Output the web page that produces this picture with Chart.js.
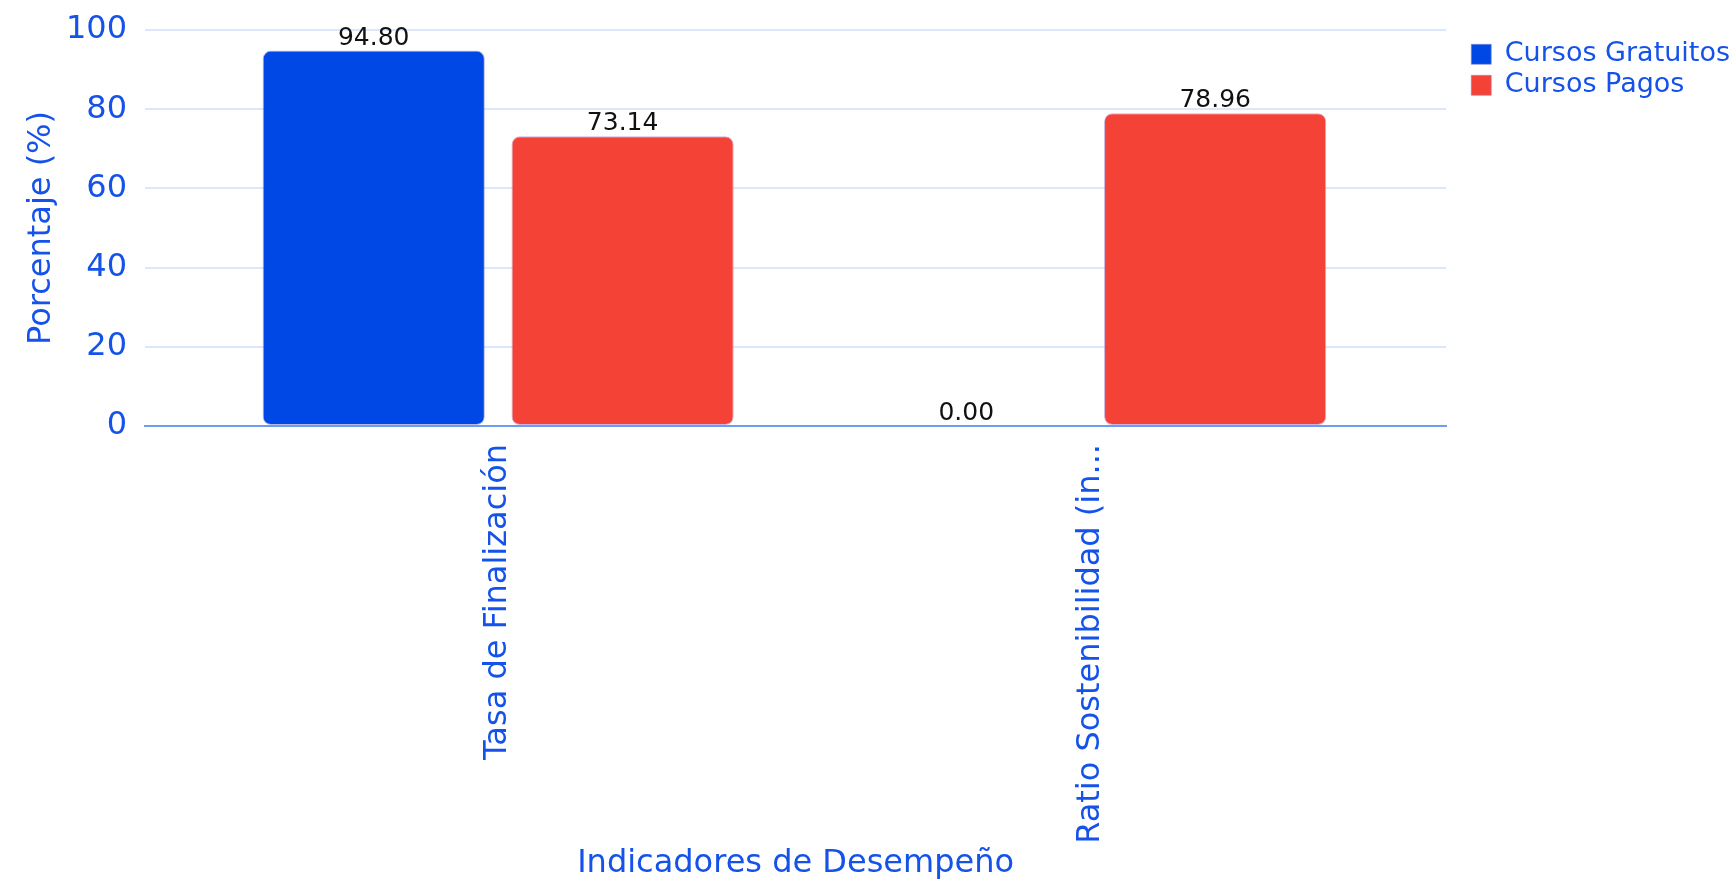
<!DOCTYPE html>
<html lang="es">
<head>
    <meta charset="UTF-8">
    <title>Indicadores de Desempeño</title>
    <script src="https://cdn.jsdelivr.net/npm/chart.js"></script>
    <style>
        html, body {
            margin: 0;
            padding: 0;
            background: #ffffff;
        }
        .wrap {
            width: 1736px;
            height: 881px;
        }
    </style>
</head>
<body>
    <div class="wrap">
        <canvas id="barChart"></canvas>
    </div>

    <script>
        // data
        const categories = ['Tasa de Finalización', 'Ratio Sostenibilidad (in...'];
        const categoryPos = [0, 1];
        const gratuitos = [94.80, 0.00];
        const pagos = [73.14, 78.96];
        const yTicks = [0, 20, 40, 60, 80, 100];

        const blue = '#0048e6';
        const red = '#f44336';
        const textBlue = '#1452ea';
        const font = "'DejaVu Sans', sans-serif";

        function points(vals) {
            return categoryPos.map((x, i) => ({ x: x, y: vals[i] }));
        }

        // value labels above each bar
        const valueLabels = {
            id: 'valueLabels',
            afterDatasetsDraw(chart) {
                const ctx = chart.ctx;
                ctx.save();
                ctx.font = '25px ' + font;
                ctx.fillStyle = '#111111';
                ctx.textAlign = 'center';
                ctx.textBaseline = 'alphabetic';
                chart.data.datasets.forEach((ds, di) => {
                    chart.getDatasetMeta(di).data.forEach((bar, i) => {
                        ctx.fillText(ds.data[i].y.toFixed(2), bar.x, bar.y - 6);
                    });
                });
                ctx.restore();
            }
        };

        new Chart(document.getElementById('barChart'), {
            type: 'bar',
            data: {
                datasets: [
                    {
                        label: 'Cursos Gratuitos',
                        data: points(gratuitos),
                        backgroundColor: blue,
                        borderColor: 'rgba(130,140,210,0.6)',
                        borderWidth: 1,
                        borderRadius: 8,
                        borderSkipped: false
                    },
                    {
                        label: 'Cursos Pagos',
                        data: points(pagos),
                        backgroundColor: red,
                        borderColor: 'rgba(170,130,200,0.6)',
                        borderWidth: 1,
                        borderRadius: 8,
                        borderSkipped: false
                    }
                ]
            },
            options: {
                responsive: true,
                maintainAspectRatio: false,
                animation: false,
                layout: { padding: { top: 30, left: 16, right: -4, bottom: 0 } },
                plugins: {
                    tooltip: { enabled: false },
                    legend: {
                        position: 'right',
                        align: 'start',
                        title: { display: true, text: '', font: { size: 4 }, padding: 1 },
                        labels: {
                            color: textBlue,
                            font: { family: font, size: 27 },
                            boxWidth: 20,
                            boxHeight: 20,
                            padding: 4
                        }
                    }
                },
                datasets: {
                    bar: { categoryPercentage: 0.84, barPercentage: 0.893 }
                },
                scales: {
                    x: {
                        type: 'linear',
                        offset: false,
                        min: -0.596,
                        max: 1.6,
                        afterBuildTicks: axis => {
                            axis.ticks = categoryPos.map(v => ({ value: v }));
                        },
                        afterFit: s => { s.height = 455; },
                        ticks: {
                            color: textBlue,
                            font: { family: font, size: 32 },
                            minRotation: 90,
                            maxRotation: 90,
                            padding: 18,
                            autoSkip: false,
                            callback: v => categories[v]
                        },
                        grid: { display: false, drawTicks: false },
                        border: { color: '#6f9cf0', width: 2 },
                        title: {
                            display: true,
                            text: 'Indicadores de Desempeño',
                            color: textBlue,
                            font: { family: font, size: 32, lineHeight: 1.1 },
                            padding: { top: 4, bottom: 0 }
                        }
                    },
                    y: {
                        min: 0,
                        max: 100,
                        afterBuildTicks: axis => {
                            axis.ticks = yTicks.map(v => ({ value: v }));
                        },
                        afterFit: s => {
                            s.width = 129;
                            s.paddingTop = 0;
                        },
                        ticks: {
                            color: textBlue,
                            font: { family: font, size: 32 },
                            padding: 18
                        },
                        grid: {
                            color: ctx => ctx.tick && ctx.tick.value === 0 ? '#6f9cf0' : '#dce6fd',
                            lineWidth: 2,
                            drawTicks: false
                        },
                        border: { display: false },
                        title: {
                            display: true,
                            text: 'Porcentaje (%)',
                            color: textBlue,
                            font: { family: font, size: 32 },
                            padding: { top: 6, bottom: 8 }
                        }
                    },
                    // empty strip between the plot and the legend
                    gap: {
                        position: 'right',
                        display: true,
                        ticks: { display: false },
                        grid: { display: false, drawOnChartArea: false, drawTicks: false },
                        border: { display: false },
                        afterFit: s => { s.width = 21; }
                    }
                }
            },
            plugins: [valueLabels]
        });
    </script>
</body>
</html>
